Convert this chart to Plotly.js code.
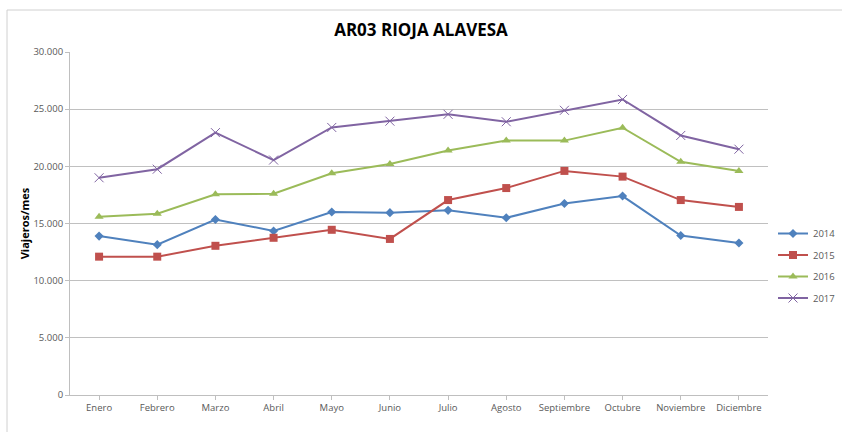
<!DOCTYPE html>
<html>
<head>
<meta charset="utf-8">
<script src="https://cdn.plot.ly/plotly-3.0.1.min.js"></script>
<style>html,body{margin:0;padding:0;background:#fff;}#chart{width:842px;height:432px;}</style>
</head>
<body>
<div id="chart"></div>
<script>
const months = ["Enero","Febrero","Marzo","Abril","Mayo","Junio","Julio","Agosto","Septiembre","Octubre","Noviembre","Diciembre"];
const v2014 = [13900,13150,15350,14350,16000,15950,16150,15500,16750,17400,13950,13300];
const v2015 = [12100,12100,13050,13750,14450,13650,17050,18100,19600,19100,17050,16450];
const v2016 = [15600,15850,17550,17600,19400,20200,21380,22250,22250,23380,20400,19600];
const v2017 = [19000,19750,22950,20550,23400,23950,24550,23900,24900,25850,22700,21500];
const seriesNames = ["2014","2015","2016","2017"];
const yTicks = [0,5000,10000,15000,20000,25000,30000];

const colors = ["#4F81BD","#C0504D","#9BBB59","#8064A2"];
const symbols = ["diamond","square","triangle-up","x-thin-open"];
const sizes = [7,8,8,9];
const data = [v2014,v2015,v2016,v2017].map((v,i)=>({
  type:"scatter", mode:"lines+markers", name:seriesNames[i], x:months, y:v,
  legendgroup:"g"+i,
  line:{color:colors[i], width:2},
  marker:{symbol:symbols[i], size:sizes[i], color:colors[i], line:{color:colors[i], width: i===3?1:0}}
}));

const layout = {
  width:842, height:432,
  margin:{l:70, r:74, t:52, b:37, autoexpand:false},
  paper_bgcolor:"#ffffff", plot_bgcolor:"#ffffff",
  separators:",.",
  font:{family:"Open Sans, Liberation Sans, sans-serif", color:"#595959", size:10},
  title:{text:"<b>AR03 RIOJA ALAVESA</b>", x:0.5, xanchor:"center", y:0.93, yanchor:"middle",
         font:{family:"Open Sans, Liberation Sans, sans-serif", size:17, color:"#000000"}},
  xaxis:{type:"category", range:[-0.5,11.5], showgrid:false, showline:true, linecolor:"#bfbfbf", linewidth:1,
         ticks:"outside", ticklen:4, tickcolor:"#bfbfbf", tickfont:{size:9.5, color:"#595959"}, fixedrange:true},
  yaxis:{range:[0,30000], tickvals:yTicks, tickformat:",d", showgrid:true, gridcolor:"#c0c0c0", gridwidth:1,
         showline:true, linecolor:"#bfbfbf", zeroline:false, ticks:"outside", ticklen:4, tickcolor:"#bfbfbf",
         tickfont:{size:9.5, color:"#595959"},
         title:{text:"<b>Viajeros/mes</b>", standoff:1, font:{size:11, color:"#000000"}}},
  legend:{x:(773-70)/698, xanchor:"left", y:(395-219)/343, yanchor:"top", font:{size:9.5, color:"#595959"},
          itemwidth:30, traceorder:"grouped", tracegroupgap:2.5},
  showlegend:true,
  shapes:[{type:"rect", xref:"paper", yref:"paper", x0:(7-70)/698, x1:(900-70)/698, y0:(395-480)/343, y1:(395-10)/343,
           line:{color:"#d0d0d0", width:1}, fillcolor:"rgba(0,0,0,0)", layer:"below"}]
};
Plotly.newPlot("chart", data, layout, {displayModeBar:false, staticPlot:true});
</script>
</body>
</html>
